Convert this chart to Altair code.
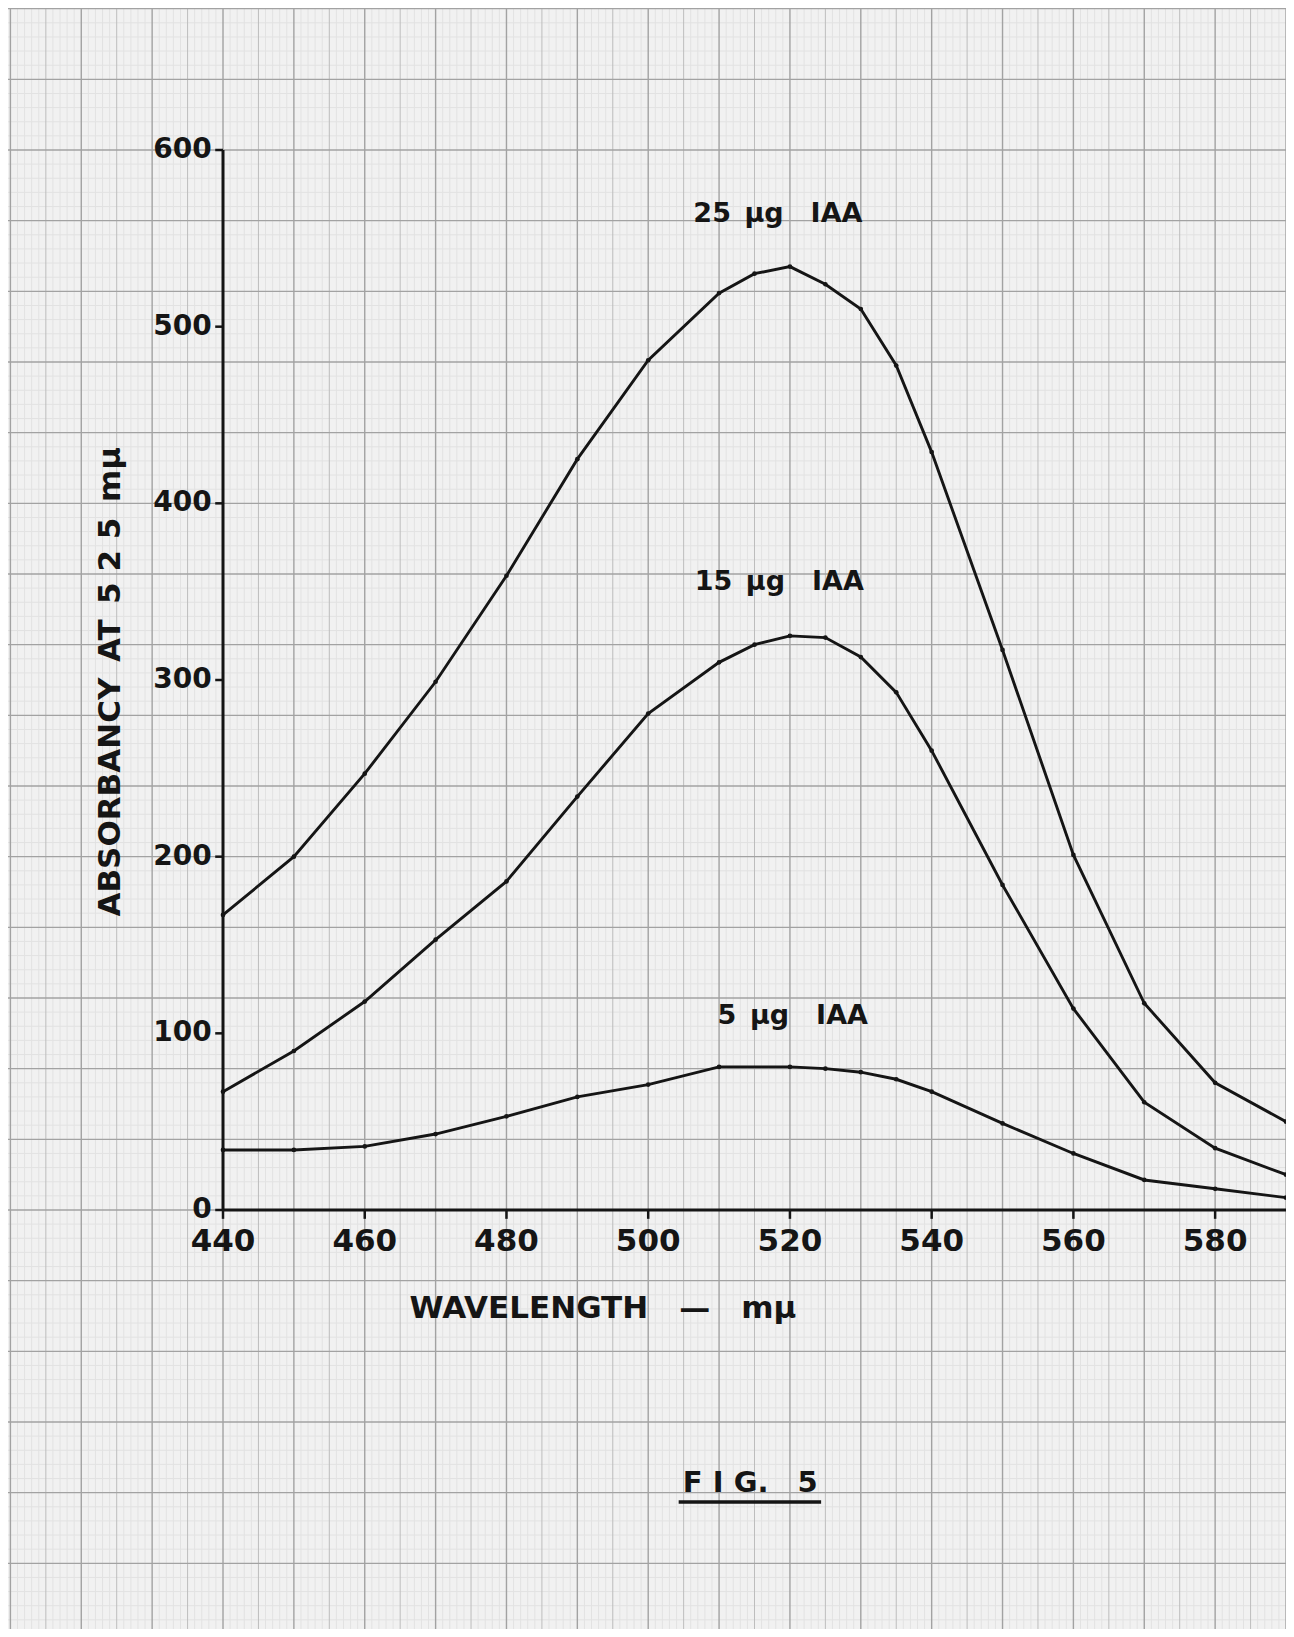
import altair as alt
import pandas as pd

# ---- data ----
wl_25 = [440, 450, 460, 470, 480, 490, 500, 510, 515, 520, 525, 530, 535, 540, 550, 560, 570, 580, 590]
abs_25 = [167, 200, 247, 299, 359, 425, 481, 519, 530, 534, 524, 510, 478, 429, 317, 201, 117, 72, 50]

wl_15 = [440, 450, 460, 470, 480, 490, 500, 510, 515, 520, 525, 530, 535, 540, 550, 560, 570, 580, 590]
abs_15 = [67, 90, 118, 153, 186, 234, 281, 310, 320, 325, 324, 313, 293, 260, 184, 114, 61, 35, 20]

wl_5 = [440, 450, 460, 470, 480, 490, 500, 510, 520, 525, 530, 535, 540, 550, 560, 570, 580, 590]
abs_5 = [34, 34, 36, 43, 53, 64, 71, 81, 81, 80, 78, 74, 67, 49, 32, 17, 12, 7]

EN, EM = "\u2002", "\u2003"
series_labels = [f"25{EN}µg{EM}IAA", f"15{EN}µg{EM}IAA", f"5{EN}µg{EM}IAA"]
label_x = [518.3, 518.5, 520.4]
label_y = [563.5, 355.5, 110.0]

x_ticks = [440, 460, 480, 500, 520, 540, 560, 580]
y_ticks = [0, 100, 200, 300, 400, 500, 600]

x_title = f"WAVELENGTH{EM}—{EM}mµ"
y_title = f"ABSORBANCY{EN}AT{EN}5 2 5{EN}mµ"
fig_title = f"F I G.{EM}5"

# ---- layout ----
W, H = 1278, 1621
x_scale = alt.Scale(domain=[409.66, 590.0], nice=False, zero=False)
y_scale = alt.Scale(domain=[-237.17, 680.38], nice=False, zero=False)
FONT = "DejaVu Sans"
INK = "#151515"


def X(field="x"):
    return alt.X(f"{field}:Q", scale=x_scale, axis=None)


def Y(field="y"):
    return alt.Y(f"{field}:Q", scale=y_scale, axis=None)


# graph paper grid
vx = list(range(410, 591))
vdf = pd.DataFrame({"x": vx, "kind": ["major" if v % 10 == 0 else ("mid" if v % 5 == 0 else "fine") for v in vx]})
hy = list(range(-232, 681, 8))
hdf = pd.DataFrame({"y": hy, "kind": ["major" if v % 40 == 0 else ("mid" if v % 20 == 0 else "fine") for v in hy]})

grid_style = {"fine": ("#e2e2e2", 1.0), "mid": ("#bdbdbd", 1.0), "major": ("#a2a2a2", 1.4)}
grid_layers = []
for kind in ["fine", "mid", "major"]:
    col, sw = grid_style[kind]
    grid_layers.append(
        alt.Chart(vdf[vdf.kind == kind]).mark_rule(color=col, strokeWidth=sw).encode(x=X())
    )
    grid_layers.append(
        alt.Chart(hdf[hdf.kind == kind]).mark_rule(color=col, strokeWidth=sw).encode(y=Y())
    )

# curves
curves = pd.concat([
    pd.DataFrame({"x": wl_25, "y": abs_25, "s": "25"}),
    pd.DataFrame({"x": wl_15, "y": abs_15, "s": "15"}),
    pd.DataFrame({"x": wl_5, "y": abs_5, "s": "5"}),
])
lines = alt.Chart(curves).mark_line(color=INK, strokeWidth=2.9).encode(x=X(), y=Y(), detail="s:N")
pts = alt.Chart(curves).mark_point(filled=True, color=INK, size=22, opacity=1).encode(x=X(), y=Y())

# drawn axes
axes_df = pd.DataFrame({"x": [440, 440], "y": [0, 0], "x2": [440, 590], "y2": [600, 0]})
axes = alt.Chart(axes_df).mark_rule(color=INK, strokeWidth=3).encode(
    x=X(), y=Y(), x2="x2:Q", y2="y2:Q")

yt_df = pd.DataFrame({"y": y_ticks, "x": [438.9] * len(y_ticks), "x2": [440] * len(y_ticks)})
ytick_marks = alt.Chart(yt_df).mark_rule(color=INK, strokeWidth=2.5).encode(x=X(), x2="x2:Q", y=Y())
xt_df = pd.DataFrame({"x": x_ticks, "y": [0] * len(x_ticks), "y2": [-5] * len(x_ticks)})
xtick_marks = alt.Chart(xt_df).mark_rule(color=INK, strokeWidth=2.5).encode(x=X(), y=Y(), y2="y2:Q")

ylab_df = pd.DataFrame({"y": y_ticks, "x": [438.4] * len(y_ticks), "t": [str(v) for v in y_ticks]})
ylabels = alt.Chart(ylab_df).mark_text(
    font=FONT, fontWeight="bold", fontSize=28, color=INK, align="right", baseline="middle"
).encode(x=X(), y=Y(), text="t:N")

xlab_df = pd.DataFrame({"x": x_ticks, "y": [-18.0] * len(x_ticks), "t": [str(v) for v in x_ticks]})
xlabels = alt.Chart(xlab_df).mark_text(
    font=FONT, fontWeight="bold", fontSize=31, color=INK, align="center", baseline="middle"
).encode(x=X(), y=Y(), text="t:N")

# titles and labels
sl_df = pd.DataFrame({"x": label_x, "y": label_y, "t": series_labels})
slabels = alt.Chart(sl_df).mark_text(
    font=FONT, fontWeight="bold", fontSize=27, color=INK, align="center", baseline="middle"
).encode(x=X(), y=Y(), text="t:N")

xt_title = alt.Chart(pd.DataFrame({"x": [493.6], "y": [-56.0], "t": [x_title]})).mark_text(
    font=FONT, fontWeight="bold", fontSize=31, color=INK, align="center", baseline="middle"
).encode(x=X(), y=Y(), text="t:N")

yt_title = alt.Chart(pd.DataFrame({"x": [424.2], "y": [299.0], "t": [y_title]})).mark_text(
    font=FONT, fontWeight="bold", fontSize=31, color=INK, align="center", baseline="middle", angle=270
).encode(x=X(), y=Y(), text="t:N")

fig = alt.Chart(pd.DataFrame({"x": [514.4], "y": [-154.5], "t": [fig_title]})).mark_text(
    font=FONT, fontWeight="bold", fontSize=29, color=INK, align="center", baseline="middle"
).encode(x=X(), y=Y(), text="t:N")

fig_line = alt.Chart(pd.DataFrame({"x": [504.3], "x2": [524.4], "y": [-165.3]})).mark_rule(
    color=INK, strokeWidth=3.5).encode(x=X(), x2="x2:Q", y=Y())

chart = alt.layer(
    *grid_layers, lines, pts, axes, ytick_marks, xtick_marks, ylabels, xlabels,
    slabels, xt_title, yt_title, fig, fig_line
).properties(
    width=W, height=H, padding=0, background="#f1f1f1",
    autosize=alt.AutoSizeParams(type="none"),
).configure_view(stroke=None)

chart.save("out.html", embed_options={"renderer": "svg", "actions": False})
